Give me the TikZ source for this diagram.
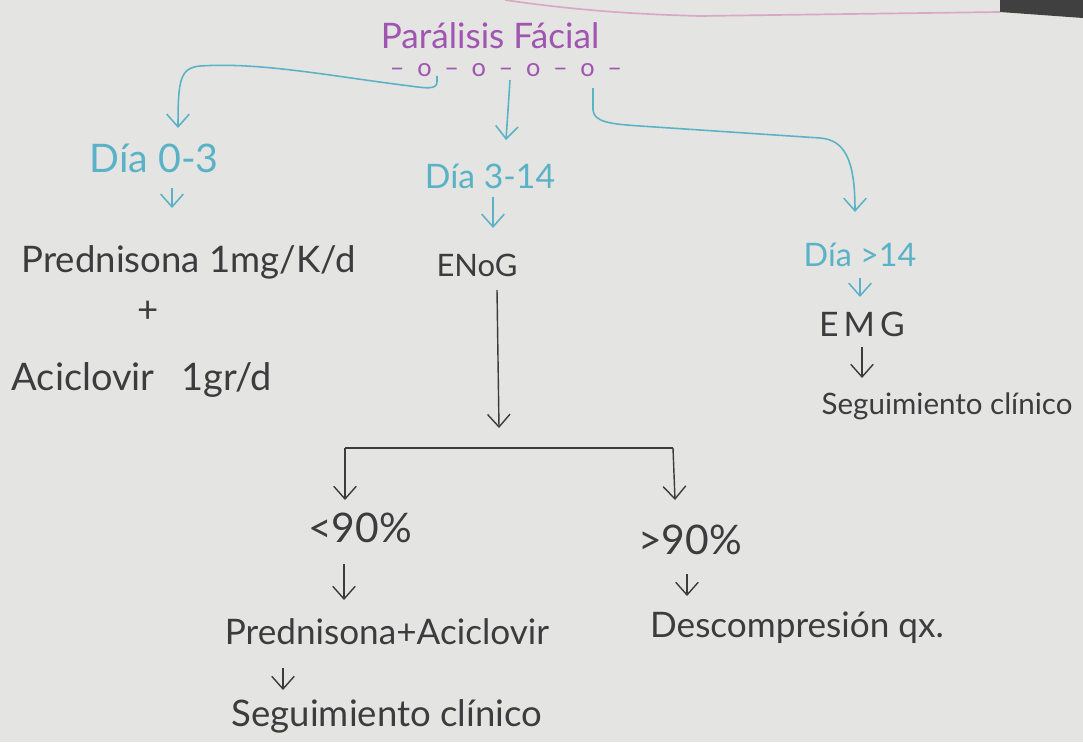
\documentclass[tikz,border=0pt]{standalone}
\usepackage{fontspec}
\setmainfont{Lato}
\usetikzlibrary{arrows.meta}
\definecolor{paper}{HTML}{E4E4E2}
\definecolor{ink}{HTML}{3C3C3E}
\definecolor{tealc}{HTML}{5AB2C6}
\definecolor{purp}{HTML}{A055B0}
\definecolor{pinkl}{HTML}{D9A8C4}
\tikzset{
  txt/.style={text=ink, inner sep=1pt, font=\fontsize{#1}{#1}\selectfont},
  tlab/.style={text=tealc, inner sep=1pt, font=\fontsize{#1}{#1}\selectfont},
  tarr/.style={draw=tealc, line width=1.1pt, -{Straight Barb[length=9pt,width=16pt,line width=1.1pt]}},
  karr/.style={draw=ink, line width=1pt, -{Straight Barb[length=9pt,width=16pt,line width=1pt]}},
  kline/.style={draw=ink, line width=1pt},
}
\begin{document}
\begin{tikzpicture}[x=0.025cm,y=-0.025cm]
\fill[paper] (0,0) rectangle (1083,742);
\useasboundingbox (0,0) rectangle (1083,742);
% paper edge at top
\fill[black!75] (1000,0) -- (1083,0) -- (1083,18) -- (1000,12) -- cycle;
\draw[pinkl, line width=1.2pt] (505,0) .. controls (560,8) and (620,14) .. (700,16) -- (1000,12);

% title
\node[text=purp, inner sep=1pt, font=\fontsize{25}{25}\selectfont] (title) at (490,36) {Parálisis Fácial};
\node[text=purp, inner sep=0pt, font=\fontsize{18}{18}\selectfont] (deco) at (506,70) {–\hspace{0.5em}o\hspace{0.5em}–\hspace{0.5em}o\hspace{0.5em}–\hspace{0.5em}o\hspace{0.5em}–\hspace{0.5em}o\hspace{0.5em}–};

% day labels
\node[tlab=28] (d03) at (154,158) {Día 0-3};
\node[tlab=24] (d314) at (490,176) {Día 3-14};
\node[tlab=23] (d14) at (860,255) {Día >14};

% connectors from title
\coordinate (c1) at (437,76);
\coordinate (c2) at (510,80);
\coordinate (c3) at (593,88);
\draw[tarr] (c1) -- (437,82) .. controls (437,90) and (425,88) .. (410,86)
   .. controls (330,76) and (260,62) .. (200,66)
   .. controls (180,68) and (178,80) .. (178,128);
\draw[tarr] (c2) -- (506,140);
\draw[tarr] (c3) -- (593,110) .. controls (594,122) and (610,124) .. (640,126)
   -- (820,138) .. controls (845,140) and (855,160) .. (855,212);

% left column
\node[txt=26, anchor=west] (pred) at (20,262) {Prednisona 1mg/K/d};
\node[txt=26] (plus) at (148,312) {+};
\node[txt=27, anchor=west] (acic) at (10,380) {Aciclovir\hspace{0.7em}1gr/d};
\draw[tarr] (172,188) -- (172,208);

% middle column
\node[txt=22] (enog) at (477,265) {ENoG};
\draw[tarr] (493,197) -- (493,228);
\draw[karr] (497,290) -- (499,428);
\coordinate (bl) at (345,448);
\coordinate (br) at (673,448);
\draw[kline] (bl) -- (br);
\draw[karr] (bl) -- (345,500);
\draw[karr] (br) -- (675,500);

\node[txt=29] (lt) at (360,528) {<90\%};
\node[txt=29] (gt) at (690,540) {>90\%};
\draw[karr] (344,564) -- (344,600);
\draw[karr] (687,574) -- (687,596);
\node[txt=25] (pa) at (387,632) {Prednisona+Aciclovir};
\node[txt=25] (dq) at (797,628) {Descompresión qx.};
\draw[karr] (283,668) -- (283,690);
\node[txt=26] (seg1) at (387,716) {Seguimiento clínico};

% right column
\draw[tarr] (860,278) -- (860,297);
\node[txt=24] (emg) at (862,324) {E\hspace{0.15em}M\hspace{0.15em}G};
\draw[karr] (862,347) -- (862,378);
\node[txt=21] (seg2) at (947,406) {Seguimiento clínico};
\end{tikzpicture}
\end{document}
